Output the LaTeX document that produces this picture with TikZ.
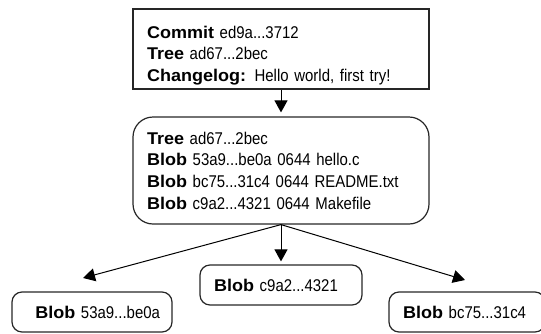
\documentclass[tikz,border=0pt]{standalone}
\usepackage{fontspec}
\setmainfont[FakeStretch=0.88]{Liberation Sans}
\newfontfamily\keyfont[FakeStretch=1.06]{Liberation Sans}
\newcommand\key[1]{{\keyfont\bfseries #1}}
\usetikzlibrary{arrows.meta}
\begin{document}
\begin{tikzpicture}[x=1pt,y=-1pt,
	obj/.style={draw=black!85,line width=1.2pt,align=left,inner xsep=14pt,inner ysep=0pt,
		font=\fontsize{17}{21.7}\selectfont},
	blobbox/.style={obj,rounded corners=10pt,minimum height=40pt},
	link/.style={line width=1pt,-{Triangle[width=13pt,length=12pt]}}]
	\useasboundingbox (0,0) rectangle (541,333);
	\def\boxwidth{268pt}
	%commit
	\node[obj,text width=\boxwidth,minimum height=80pt] (commit) at (281,49)
		{\rule{0pt}{25pt}\key{Commit} ed9a...3712\\\key{Tree} ad67...2bec\\\key{Changelog:} Hello world, first try!};
	%tree
	\node[obj,rounded corners=20pt,text width=\boxwidth,minimum height=107pt] (tree) at (281,170.5)
		{\key{Tree} ad67...2bec\\\key{Blob} 53a9...be0a 0644 hello.c\\\key{Blob} bc75...31c4 0644 README.txt\\\key{Blob} c9a2...4321 0644 Makefile};
	%blobs
	\node[blobbox,text width=134pt] (blobmake) at (281,285) {\key{Blob} c9a2...4321};
	\node[blobbox,text width=136pt,inner xsep=12pt,align=right] (blobhello) at (92,312) {\key{Blob} 53a9...be0a};
	\node[blobbox,text width=128pt] (blobreadme) at (467,312) {\key{Blob} bc75...31c4};
	\coordinate (hellotip) at (83,278);
	\coordinate (readmetip) at (465,280);
	% arrows
	\draw[link,shorten >=4pt] (commit.south) -- (tree.north);
	\draw[link,shorten >=3pt] (tree.south) -- (blobmake.north);
	\foreach \tip in {hellotip,readmetip}
		\draw[link] (tree.south) -- (\tip);
\end{tikzpicture}
\end{document}
